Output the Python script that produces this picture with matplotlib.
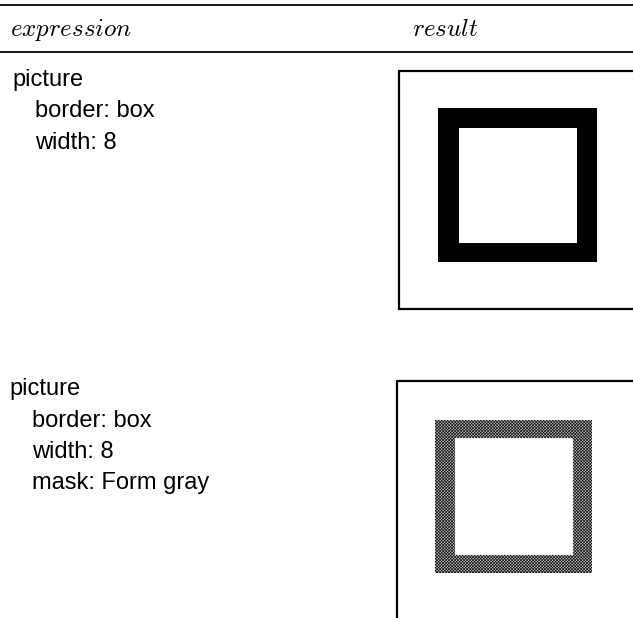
import numpy as np
import matplotlib.pyplot as plt
from matplotlib.patches import Rectangle

# page is laid out in pixel units (origin top-left)
W, H = 633, 618

header_labels = ["expression", "result"]
header_x = [10, 412]
header_base = 36
rule_y = [5, 52]

expr1 = ["picture", "border: box", "width: 8"]
expr1_x = [12, 35, 35]
expr1_base = [86, 117, 149]

expr2 = ["picture", "border: box", "width: 8", "mask: Form gray"]
expr2_x = [9, 32, 32, 32]
expr2_base = [395, 427, 458, 489]

# result frames: left, top, bottom (right side runs off the page)
frame1 = (399, 71, 309)
frame2 = (397, 381, H + 5)

# border squares: outer (x0, y0, x1, y1) and inner hole
sq1_outer = (438, 108, 597, 262)
sq1_inner = (459, 128, 577, 243)
sq2_outer = (435, 420, 592, 573)
sq2_inner = (455, 438, 573, 555)

fig = plt.figure(figsize=(W / 100, H / 100), dpi=100)
ax = fig.add_axes([0, 0, 1, 1])
ax.set_xlim(0, W)
ax.set_ylim(H, 0)
ax.axis("off")

plt.rcParams["mathtext.fontset"] = "cm"

for y in rule_y:
    ax.plot([0, W], [y, y], color="black", lw=1.3)

for lab, x in zip(header_labels, header_x):
    ax.text(x, header_base, r"$\mathit{" + lab + "}$", fontsize=18,
            va="baseline", ha="left")

for lines, xs, ys in [(expr1, expr1_x, expr1_base), (expr2, expr2_x, expr2_base)]:
    for t, x, y in zip(lines, xs, ys):
        ax.text(x, y, t, fontsize=17, family="Liberation Sans",
                va="baseline", ha="left")

for left, top, bottom in [frame1, frame2]:
    ax.plot([W + 5, left, left, W + 5], [top, top, bottom, bottom],
            color="black", lw=1.6, solid_joinstyle="miter")

# solid black border
ox0, oy0, ox1, oy1 = sq1_outer
ix0, iy0, ix1, iy1 = sq1_inner
ax.add_patch(Rectangle((ox0, oy0), ox1 - ox0, oy1 - oy0, color="black", lw=0))
ax.add_patch(Rectangle((ix0, iy0), ix1 - ix0, iy1 - iy0, color="white", lw=0))

# gray masked border: checker dot pattern, black cells a bit fatter
ox0, oy0, ox1, oy1 = sq2_outer
ix0, iy0, ix1, iy1 = sq2_inner
s = 4
cell = 6
nx, ny = (ox1 - ox0) * s, (oy1 - oy0) * s
jj, ii = np.meshgrid(np.arange(nx), np.arange(ny))
white_cell = ((ii // cell) + (jj // cell)) % 2 == 1
core = ((ii % cell) < cell - 1) & ((jj % cell) < cell - 1)
is_white = white_cell & core
img = np.ones((ny, nx, 4))
img[..., :3] = np.where(is_white, 1.0, 0.0)[..., None]
px = ox0 + jj / s
py = oy0 + ii / s
hole = (px >= ix0) & (px < ix1) & (py >= iy0) & (py < iy1)
img[hole, :3] = 1.0
ax.imshow(img, extent=(ox0, ox1, oy1, oy0), interpolation="antialiased",
          aspect="auto", zorder=2)
ax.set_xlim(0, W)
ax.set_ylim(H, 0)

fig.savefig("out.png", dpi=100, facecolor="white")
